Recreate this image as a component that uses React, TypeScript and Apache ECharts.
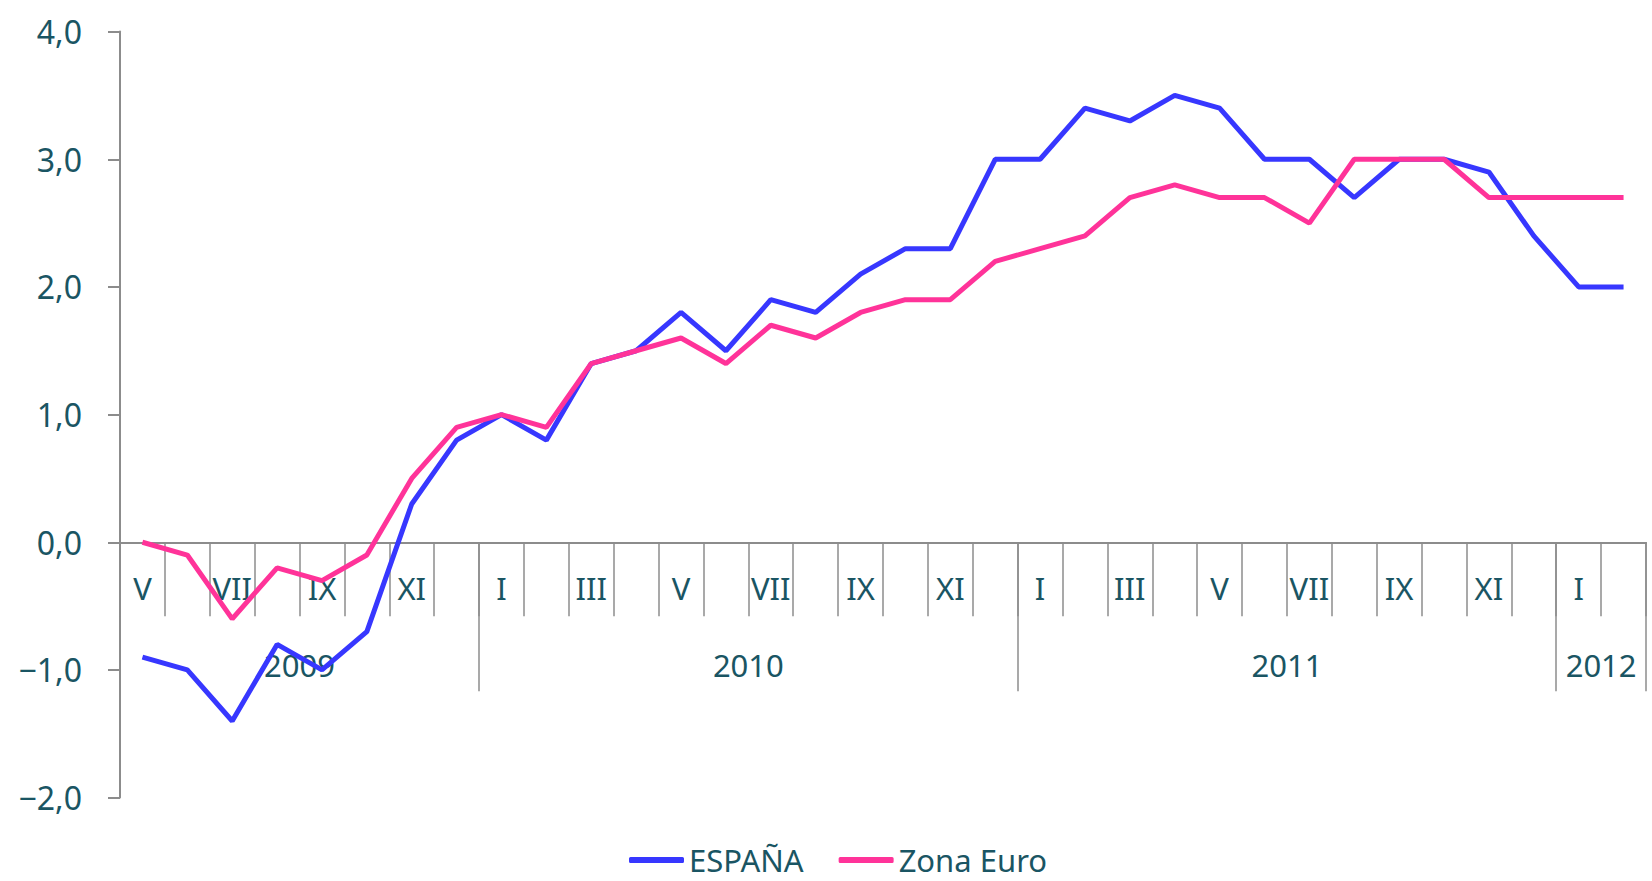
import React, { useEffect, useRef } from "react";
import * as echarts from "echarts";

const months = [
  "V", "VI", "VII", "VIII", "IX", "X", "XI", "XII",
  "I", "II", "III", "IV", "V", "VI", "VII", "VIII", "IX", "X", "XI", "XII",
  "I", "II", "III", "IV", "V", "VI", "VII", "VIII", "IX", "X", "XI", "XII",
  "I", "II",
];

const espana = [
  -0.9, -1.0, -1.4, -0.8, -1.0, -0.7, 0.3, 0.8,
  1.0, 0.8, 1.4, 1.5, 1.8, 1.5, 1.9, 1.8, 2.1, 2.3, 2.3, 3.0,
  3.0, 3.4, 3.3, 3.5, 3.4, 3.0, 3.0, 2.7, 3.0, 3.0, 2.9, 2.4,
  2.0, 2.0,
];

const zonaEuro = [
  0.0, -0.1, -0.6, -0.2, -0.3, -0.1, 0.5, 0.9,
  1.0, 0.9, 1.4, 1.5, 1.6, 1.4, 1.7, 1.6, 1.8, 1.9, 1.9, 2.2,
  2.3, 2.4, 2.7, 2.8, 2.7, 2.7, 2.5, 3.0, 3.0, 3.0, 2.7, 2.7,
  2.7, 2.7,
];

// year labels and their position in months from the start of the axis
const years = ["2009", "2010", "2011", "2012"];
const yearLabelAt = [4, 14, 26, 33]; // months from axis start (label centre)
const yearTickAt = [8, 20, 32, 34]; // months from axis start (year boundaries)

const yMin = -2;
const yMax = 4;
const yInterval = 1;

const TEXT = "#1a5563";
const AXIS = "#8c8c8c";
const FONT = "Noto Sans";

export default function App() {
  const ref = useRef<HTMLDivElement>(null);

  useEffect(() => {
    if (!ref.current) return;
    const chart = echarts.init(ref.current, undefined, { renderer: "svg" });

    const gridTop = 31.6;
    const gridBottom = 83.4;
    const gridHeight = 881 - gridTop - gridBottom;
    const zeroOffset = (gridHeight * (0 - yMin)) / (yMax - yMin);

    // half-month positions for the year axis
    const halfCount = months.length * 2 + 1;
    const yearAxisData: string[] = [];
    for (let i = 0; i < halfCount; i++) {
      const k = yearLabelAt.findIndex((m) => m * 2 === i);
      yearAxisData.push(k >= 0 ? years[k] : "");
    }
    const yearTickIdx = new Set(yearTickAt.map((m) => m * 2));
    const yearLabelIdx = new Set(yearLabelAt.map((m) => m * 2));

    chart.setOption({
      animation: false,
      grid: { left: 120, right: 6, top: gridTop, bottom: gridBottom, containLabel: false },
      legend: {
        data: ["ESPAÑA", "Zona Euro"],
        left: 629,
        top: 844,
        padding: 0,
        icon: "roundRect",
        itemWidth: 55,
        itemHeight: 6,
        itemGap: 35,
        textStyle: { fontFamily: FONT, fontSize: 31, lineHeight: 32, color: TEXT },
      },
      xAxis: [
        {
          type: "category",
          data: months,
          boundaryGap: true,
          position: "bottom",
          offset: -zeroOffset,
          axisLine: { onZero: false, lineStyle: { color: AXIS, width: 2 } },
          axisTick: {
            show: true,
            interval: 0,
            length: 74,
            lineStyle: { color: AXIS, width: 1.5 },
          },
          axisLabel: {
            interval: (i: number) => i % 2 === 0,
            margin: 30,
            fontFamily: FONT,
            fontSize: 31,
            color: TEXT,
          },
          splitLine: { show: false },
        },
        {
          type: "category",
          data: yearAxisData,
          boundaryGap: false,
          position: "bottom",
          offset: -zeroOffset,
          axisLine: { show: false, onZero: false },
          axisTick: {
            show: true,
            interval: (i: number) => yearTickIdx.has(i),
            length: 149,
            lineStyle: { color: AXIS, width: 1.5 },
          },
          axisLabel: {
            interval: (i: number) => yearLabelIdx.has(i),
            margin: 107,
            fontFamily: FONT,
            fontSize: 31,
            color: TEXT,
          },
          splitLine: { show: false },
        },
      ],
      yAxis: {
        type: "value",
        min: yMin,
        max: yMax,
        interval: yInterval,
        axisLine: { show: true, lineStyle: { color: AXIS, width: 2 } },
        axisTick: { show: true, length: 12, lineStyle: { color: AXIS, width: 2 } },
        axisLabel: {
          margin: 38,
          fontFamily: FONT,
          fontSize: 32,
          color: TEXT,
          formatter: (v: number) =>
            (v < 0 ? "\u2212" : "") + Math.abs(v).toFixed(1).replace(".", ","),
        },
        splitLine: { show: false },
      },
      series: [
        {
          name: "ESPAÑA",
          type: "line",
          data: espana,
          xAxisIndex: 0,
          showSymbol: false,
          symbol: "none",
          lineStyle: { color: "#3737ff", width: 5 },
          itemStyle: { color: "#3737ff" },
        },
        {
          name: "Zona Euro",
          type: "line",
          data: zonaEuro,
          xAxisIndex: 0,
          showSymbol: false,
          symbol: "none",
          lineStyle: { color: "#ff3399", width: 5 },
          itemStyle: { color: "#ff3399" },
        },
      ],
    });

    return () => chart.dispose();
  }, []);

  return (
    <div
      ref={ref}
      style={{ position: "fixed", left: 0, top: 0, width: 1652, height: 881, background: "#fff" }}
    />
  );
}
